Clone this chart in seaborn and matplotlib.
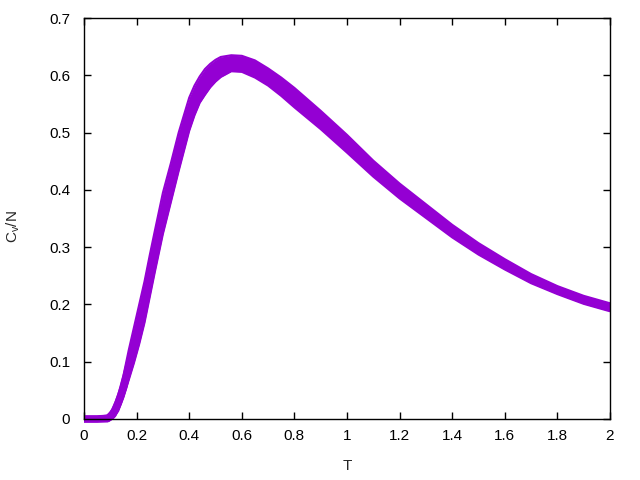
import numpy as np
import pandas as pd
import matplotlib
matplotlib.use("Agg")
import matplotlib.pyplot as plt
import seaborn as sns

# values (band of curves, mid / upper / lower edge)
temps = [0.0, 0.05, 0.09, 0.11, 0.13, 0.15, 0.17, 0.19, 0.21, 0.23, 0.25, 0.27,
         0.30, 0.33, 0.36, 0.40, 0.42, 0.44, 0.46, 0.48, 0.50, 0.52, 0.56, 0.60, 0.65,
         0.70, 0.75, 0.80, 0.90, 1.00, 1.10, 1.20, 1.30, 1.40, 1.50, 1.60, 1.70, 1.80,
         1.90, 2.00]
cv_mid = [0.0, 0.0, 0.001, 0.008, 0.028, 0.055, 0.092, 0.128, 0.165, 0.205, 0.255, 0.298,
          0.360, 0.415, 0.470, 0.535, 0.558, 0.576, 0.590, 0.600, 0.609, 0.615, 0.621, 0.619,
          0.610, 0.597, 0.580, 0.561, 0.522, 0.481, 0.437, 0.398, 0.363, 0.328, 0.297, 0.270,
          0.245, 0.225, 0.208, 0.195]
cv_upper = [0.004, 0.004, 0.006, 0.018, 0.042, 0.076, 0.120, 0.160, 0.200, 0.240, 0.286, 0.330,
            0.395, 0.446, 0.500, 0.561, 0.582, 0.598, 0.611, 0.620, 0.627, 0.632, 0.635, 0.634,
            0.626, 0.612, 0.596, 0.578, 0.538, 0.496, 0.451, 0.411, 0.375, 0.339, 0.307, 0.279,
            0.253, 0.232, 0.215, 0.202]
cv_lower = [-0.004, -0.004, -0.004, 0.001, 0.014, 0.038, 0.068, 0.098, 0.131, 0.168, 0.213, 0.258,
            0.323, 0.378, 0.433, 0.503, 0.530, 0.552, 0.566, 0.579, 0.589, 0.597, 0.607, 0.606,
            0.596, 0.582, 0.564, 0.544, 0.506, 0.465, 0.423, 0.385, 0.351, 0.317, 0.287, 0.261,
            0.237, 0.218, 0.201, 0.188]

x_ticks = [0, 0.2, 0.4, 0.6, 0.8, 1, 1.2, 1.4, 1.6, 1.8, 2]
y_ticks = [0, 0.1, 0.2, 0.3, 0.4, 0.5, 0.6, 0.7]

sns.set_theme(style="ticks")
plt.rcParams["font.family"] = ["Liberation Sans", "DejaVu Sans"]
plt.rcParams["mathtext.fontset"] = "custom"
plt.rcParams["mathtext.rm"] = "Liberation Sans"

df = pd.DataFrame({"T": temps, "mid": cv_mid, "upper": cv_upper, "lower": cv_lower})
purple = "#9400d3"

fig, ax = plt.subplots(figsize=(6.4, 4.8), dpi=100)
fig.subplots_adjust(left=84/640, right=610/640, bottom=1-419/480, top=1-18/480)

ax.fill_between(df["T"], df["lower"], df["upper"], color=purple, lw=0, clip_on=False)
for col, w in [("upper", 1.5), ("lower", 1.5), ("mid", 5.5)]:
    sns.lineplot(data=df, x="T", y=col, color=purple, lw=w, ax=ax, clip_on=False,
                 solid_joinstyle="round", solid_capstyle="butt")

ax.set_xlim(0, 2)
ax.set_ylim(0, 0.7)
ax.set_xticks(x_ticks)
ax.set_xticklabels(["%g" % t for t in x_ticks])
ax.set_yticks(y_ticks)
ax.set_yticklabels(["%g" % t for t in y_ticks])
ax.tick_params(direction="in", length=5, width=1, top=True, right=True,
               colors="black", labelsize=11)
ax.tick_params(axis="x", pad=7)
ax.tick_params(axis="y", pad=10)
for s in ax.spines.values():
    s.set_color("black")
    s.set_linewidth(1)

ax.set_xlabel("T", fontsize=11)
ax.set_ylabel("$\\mathregular{C_v/N}$", fontsize=11)
ax.xaxis.label.set_va("center")
ax.yaxis.label.set_va("center")
ax.xaxis.set_label_coords(0.5, (419-466)/401)
ax.yaxis.set_label_coords((13-84)/526, 0.48)

plt.savefig("out.png", dpi=100)
